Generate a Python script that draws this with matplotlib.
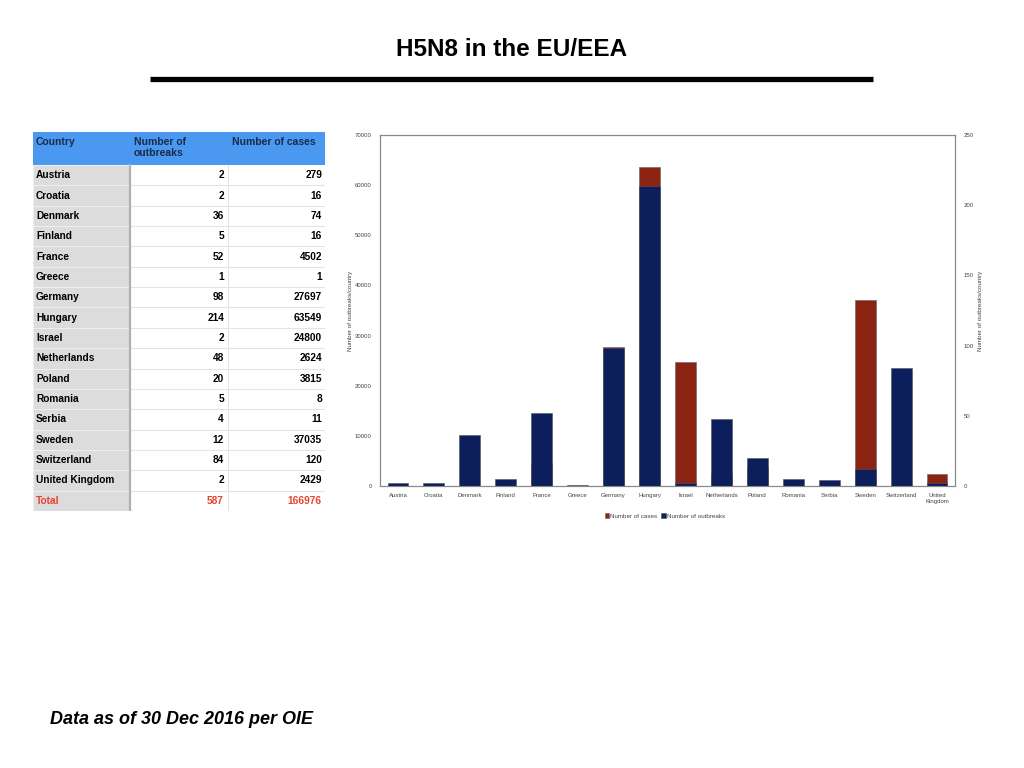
import matplotlib
matplotlib.use("Agg")
import matplotlib.pyplot as plt
from matplotlib.patches import Rectangle
from matplotlib.lines import Line2D

plt.rcParams["font.family"] = ["Liberation Sans", "DejaVu Sans"]

countries = ["Austria", "Croatia", "Denmark", "Finland", "France", "Greece",
             "Germany", "Hungary", "Israel", "Netherlands", "Poland", "Romania",
             "Serbia", "Sweden", "Switzerland", "United Kingdom"]
outbreaks = [2, 2, 36, 5, 52, 1, 98, 214, 2, 48, 20, 5, 4, 12, 84, 2]
cases = [279, 16, 74, 16, 4502, 1, 27697, 63549, 24800, 2624, 3815, 8, 11,
         37035, 120, 2429]
total_outbreaks = 587
total_cases = 166976
headers = ["Country", "Number of\noutbreaks", "Number of cases"]

NAVY = "#0c1f5c"
RED = "#8b2313"
W, H = 1024, 768

fig = plt.figure(figsize=(10.24, 7.68), dpi=100)

# title + rule
fig.text(512 / W, 1 - 50 / H, "H5N8 in the EU/EEA", ha="center", va="center",
         fontsize=17.5, fontweight="bold", color="black")
fig.add_artist(Line2D([150 / W, 873 / W], [1 - 79 / H, 1 - 79 / H],
                      color="black", linewidth=3.8, solid_capstyle="butt"))

# footer
fig.text(50 / W, 1 - 720 / H, "Data as of 30 Dec 2016 per OIE", ha="left",
         va="center", fontsize=13, fontweight="bold", fontstyle="italic")

# ---- table (pixel units inside its own axes) ----
t_left, t_top, t_right, t_bot = 33, 132, 325, 511
tax = fig.add_axes([t_left / W, 1 - t_bot / H, (t_right - t_left) / W,
                    (t_bot - t_top) / H])
tax.set_xlim(t_left, t_right)
tax.set_ylim(t_bot, t_top)
tax.axis("off")

head_h = 33
row_h = (t_bot - t_top - head_h) / 17

tax.add_patch(Rectangle((33, t_top), 292, head_h, color="#4a98f0", lw=0))
for x, h in zip([36, 134, 232], headers):
    tax.text(x, t_top + 5, h, ha="left", va="top", fontsize=7.5,
             fontweight="bold", color="#1a2b4c", linespacing=1.15)

rows = [(c, str(o), str(k)) for c, o, k in zip(countries, outbreaks, cases)]
rows.append(("Total", str(total_outbreaks), str(total_cases)))
for i, (c, o, k) in enumerate(rows):
    y0 = t_top + head_h + i * row_h
    tax.add_patch(Rectangle((33, y0), 97, row_h, facecolor="#dcdcdc",
                            edgecolor="#eeeeee", lw=0.8))
    tax.add_patch(Rectangle((130, y0), 195, row_h, facecolor="white",
                            edgecolor="none", lw=0))
    tax.plot([130, 325], [y0 + row_h, y0 + row_h], color="#e4e4e4", lw=0.8)
    col = "#e8412c" if c == "Total" else "black"
    yc = y0 + row_h / 2
    tax.text(36, yc, c, ha="left", va="center", fontsize=7.3,
             fontweight="bold", color=col)
    tax.text(224, yc, o, ha="right", va="center", fontsize=7.3,
             fontweight="bold", color=col)
    tax.text(322, yc, k, ha="right", va="center", fontsize=7.3,
             fontweight="bold", color=col)
tax.plot([228, 228], [t_top + head_h, t_bot], color="#e4e4e4", lw=0.8)
tax.plot([130, 130], [t_top + head_h, t_bot], color="#b0b0b0", lw=1.6)

# ---- chart ----
ax = fig.add_axes([380 / W, 1 - 486 / H, 575 / W, 351 / H])
ax2 = ax.twinx()
xs = list(range(len(countries)))
bw = 0.58
ax.bar(xs, cases, width=bw, color=RED, edgecolor="#666666", linewidth=0.4,
       label="Number of cases")
ax2.bar(xs, outbreaks, width=bw, color=NAVY, edgecolor="#555555",
        linewidth=0.4, label="Number of outbreaks")

ax.set_xlim(-0.5, len(countries) - 0.5)
ax.set_ylim(0, 70000)
ax2.set_ylim(0, 250)
ax.set_yticks(range(0, 70001, 10000))
ax2.set_yticks(range(0, 251, 50))
ax.set_xticks(xs)
ax.set_xticklabels([c.replace(" ", "\n") for c in countries])

for a in (ax, ax2):
    a.tick_params(length=0, labelsize=4.3, colors="#444444", pad=6)
    for s in a.spines.values():
        s.set_color("#888888")
        s.set_linewidth(0.8)
ax.tick_params(axis="x", pad=5)
ax.set_ylabel("Number of outbreaks/country", fontsize=4.5, color="#444444",
              labelpad=1)
ax2.set_ylabel("Number of outbreaks/country", fontsize=4.5, color="#444444",
               labelpad=3)

h1, l1 = ax.get_legend_handles_labels()
h2, l2 = ax2.get_legend_handles_labels()
fig.legend(h1 + h2, l1 + l2, loc="center", bbox_to_anchor=(665 / W, 1 - 516 / H),
           ncol=2, frameon=False, fontsize=4.5, handlelength=0.7,
           handleheight=0.7, handletextpad=0.2, columnspacing=0.6,
           labelcolor="#444444")

fig.savefig("out.png", dpi=100, facecolor="white")
